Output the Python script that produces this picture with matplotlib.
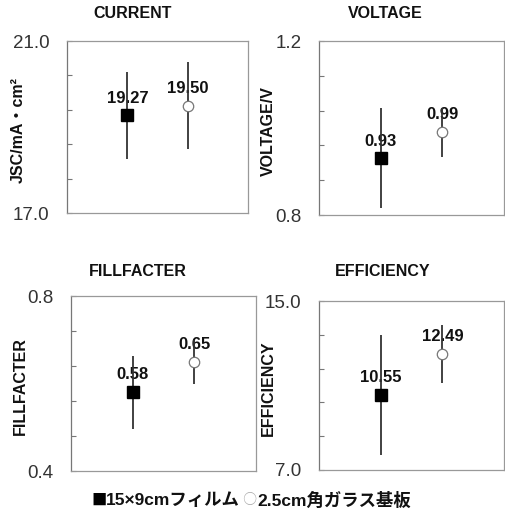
import matplotlib
matplotlib.use("Agg")
import matplotlib.pyplot as plt
import numpy as np

# ---- data ----
categories = ['15×9cmフィルム', '2.5cm角ガラス基板']
titles = ['CURRENT', 'VOLTAGE', 'FILLFACTER', 'EFFICIENCY']
ylabels = ['JSC/mA・cm²', 'VOLTAGE/V', 'FILLFACTER', 'EFFICIENCY']
jsc = [19.27, 19.50]
jsc_err = [1.02, 1.02]
voc = [0.93, 0.99]
voc_err = [0.115, 0.056]
ff = [0.58, 0.65]
ff_err = [0.083, 0.05]
eff = [10.55, 12.49]
eff_err = [2.84, 1.37]
value_labels = [['19.27', '19.50'], ['0.93', '0.99'], ['0.58', '0.65'], ['10.55', '12.49']]
ylims = [(17.0, 21.0), (0.8, 1.2), (0.4, 0.8), (7.0, 15.0)]
ytick_labels = [('17.0', '21.0'), ('0.8', '1.2'), ('0.4', '0.8'), ('7.0', '15.0')]

values = [jsc, voc, ff, eff]
errors = [jsc_err, voc_err, ff_err, eff_err]

FAM = ['Liberation Sans', 'Noto Sans CJK JP', 'DejaVu Sans']
plt.rcParams['font.family'] = FAM

W, H = 505, 511
fig = plt.figure(figsize=(W / 100, H / 100), dpi=100)

# axes boxes in pixels: left, right, top, bottom
boxes = [(67, 248, 41, 213), (319, 504, 41, 215), (71, 256, 296, 471), (319, 504, 301, 470)]
title_x = [133, 385, 138, 383]
title_y = [14, 14, 272, 272]
ylabel_x = [18, 268, 20, 268]

for i in range(4):
    l, r, t, b = boxes[i]
    ax = fig.add_axes([l / W, 1 - b / H, (r - l) / W, (b - t) / H])
    ax.set_xlim(0, 3)
    lo, hi = ylims[i]
    ax.set_ylim(lo, hi)
    ticks = np.linspace(lo, hi, 6)
    ax.set_yticks(ticks)
    ax.set_yticklabels([ytick_labels[i][0], '', '', '', '', ytick_labels[i][1]])
    ax.tick_params(axis='y', direction='in', length=3.5, width=0.8, color='#777777',
                   pad=12.5, labelsize=13.5, labelcolor='#333333')
    ax.set_xticks([])
    for s in ax.spines.values():
        s.set_color('#999999')
        s.set_linewidth(0.9)
    ax.spines['left'].set_color('#777777')

    xs = [1, 2]
    v = values[i]
    e = errors[i]
    ax.errorbar(xs, v, yerr=e, fmt='none', ecolor='#333333', elinewidth=1.3,
                capsize=0, zorder=2)
    ax.plot([xs[0]], [v[0]], marker='s', ms=8, mfc='black', mec='black',
            ls='none', zorder=3)
    ax.plot([xs[1]], [v[1]], marker='o', ms=7.5, mfc='white', mec='#777777',
            mew=0.9, ls='none', zorder=3)
    for j in range(2):
        ax.annotate(value_labels[i][j], xy=(xs[j], v[j]), xytext=(0, 12.5),
                    textcoords='offset points', ha='center', va='center',
                    fontsize=12, fontweight='bold', color='#111111', zorder=1)

    fig.text(title_x[i] / W, 1 - title_y[i] / H, titles[i], ha='center',
             va='center', fontsize=11.5, fontweight='bold', color='#111111')
    fig.text(ylabel_x[i] / W, 1 - ((t + b) / 2 + 3) / H, ylabels[i], rotation=90,
             ha='center', va='center', fontsize=11.5, fontweight='bold',
             color='#111111', family=FAM)

# legend as text
ax0 = fig.axes[0]
t0 = fig.text(91 / W, 1 - 500 / H, '■', ha='left', va='center',
              fontsize=11, color='#000000', family=['Noto Sans CJK JP'])
t1 = ax0.annotate(categories[0], xy=(1, 0.5), xycoords=t0, ha='left', va='center',
                  fontsize=12.5, fontweight='bold', color='#111111',
                  family=['Liberation Sans', 'Noto Sans CJK JP'],
                  annotation_clip=False)
a2 = ax0.annotate(' ○', xy=(1, 0.5), xycoords=t1, ha='left', va='center',
                  fontsize=10, color='#aaaaaa', family=['Noto Sans CJK JP'],
                  annotation_clip=False)
a3 = ax0.annotate(categories[1], xy=(1, 0.5), xycoords=a2, ha='left',
                  va='center', fontsize=12.5, fontweight='bold', color='#111111',
                  family=['Liberation Sans', 'Noto Sans CJK JP'],
                  annotation_clip=False)

fig.savefig('out.png', dpi=100)
